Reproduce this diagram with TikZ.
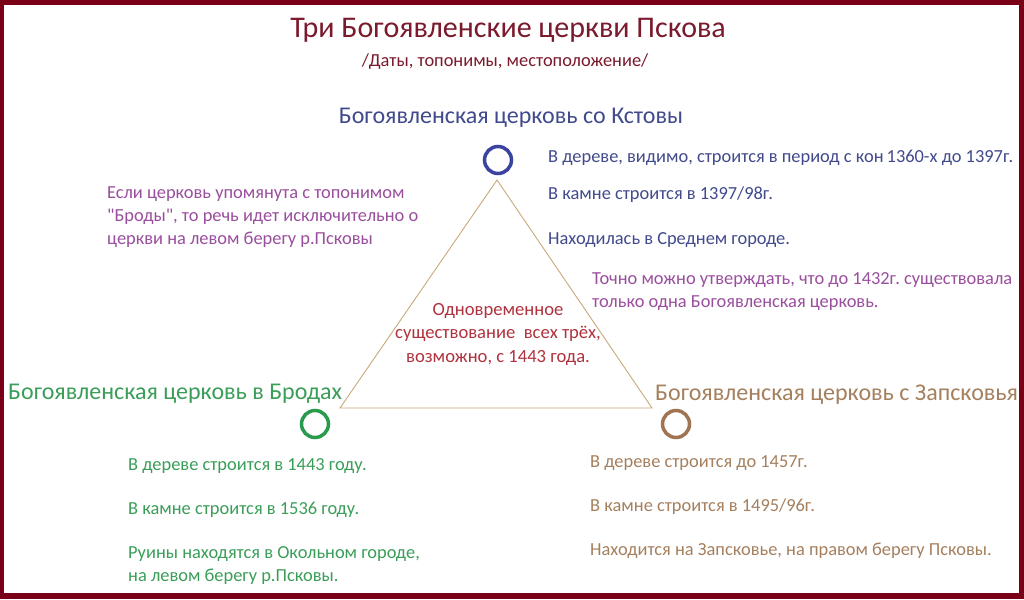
\documentclass[tikz,border=0pt]{standalone}
\usepackage{fontspec}
\setmainfont{Carlito}
\newfontfamily\plainq{Carlito}
\definecolor{frame}{HTML}{7A0018}
\definecolor{titlec}{HTML}{7A1A2C}
\definecolor{bluec}{HTML}{414A8C}
\definecolor{bluecirc}{HTML}{3A43A0}
\definecolor{purplec}{HTML}{9A4E9E}
\definecolor{greenc}{HTML}{3A9E58}
\definecolor{greencirc}{HTML}{2A9A4E}
\definecolor{brownc}{HTML}{A5805E}
\definecolor{browncirc}{HTML}{A07452}
\definecolor{redc}{HTML}{B0323E}
\definecolor{trianc}{HTML}{C9A97C}
\tikzset{
  body/.style={anchor=west, inner sep=0pt, font=\fontsize{18.4}{23}\selectfont\frenchspacing},
  head/.style={inner sep=0pt, font=\fontsize{24}{28}\selectfont},
  ring/.style={circle, minimum size=27pt, inner sep=0pt, line width=3.5pt},
}
\begin{document}
\begin{tikzpicture}[x=1pt,y=-1pt]
\useasboundingbox (0,0) rectangle (1024,599);
\fill[frame] (0,0) rectangle (1024,599);
\fill[white] (4,5) rectangle (1019,593);
% title
\node[inner sep=0pt, text=titlec, font=\fontsize{30}{34}\selectfont] (title) at (508,30) {Три Богоявленские церкви Пскова};
\node[inner sep=0pt, text=titlec, font=\fontsize{18.4}{22}\selectfont] (sub) at (505,62) {/Даты, топонимы, местоположение/};
% headings
\node[head, text=bluec] (hk) at (511,118) {Богоявленская церковь со Кстовы};
\node[head, text=greenc, anchor=west] (hb) at (8,394) {Богоявленская церковь в Бродах};
\node[head, text=brownc, anchor=west] (hz) at (655,395) {Богоявленская церковь с Запсковья};
% circles
\node[ring, draw=bluecirc] (ck) at (498,160) {};
\node[ring, draw=greencirc] (cb) at (315,424) {};
\node[ring, draw=browncirc] (cz) at (676,424) {};
% triangle
\coordinate (ta) at (497,180);
\coordinate (tl) at (340,408);
\coordinate (tr) at (652,408);
\draw[trianc, line width=0.9pt] (ta) -- (tl) -- (tr) -- cycle;
% center text
\node[inner sep=0pt, text=redc, align=center, font=\fontsize{18.6}{23.5}\selectfont\frenchspacing] (mid) at (498,334) {Одновременное\\существование \ всех трёх,\\возможно, с 1443 года.};
% top right blue
\node[body, text=bluec] (k1) at (548,158) {В дереве, видимо, строится в период с кон\,1360-х до 1397г.};
\node[body, text=bluec] (k2) at (548,195) {В камне строится в 1397/98г.};
\node[body, text=bluec] (k3) at (548,240) {Находилась в Среднем городе.};
% purple right
\node[body, text=purplec, align=left] (p2) at (592,292) {Точно можно утверждать, что до 1432г. существовала\\только одна Богоявленская церковь.};
% purple left
\node[body, text=purplec, align=left] (p1) at (107,217) {Если церковь упомянута с топонимом\\{\plainq"}Броды{\plainq"}, то речь идет исключительно о\\церкви на левом берегу р.Псковы};
% green bottom
\node[body, text=greenc] (b1) at (128,466) {В дереве строится в 1443 году.};
\node[body, text=greenc] (b2) at (128,510) {В камне строится в 1536 году.};
\node[body, text=greenc, align=left] (b3) at (128,566) {Руины находятся в Окольном городе,\\на левом берегу р.Псковы.};
% brown bottom
\node[body, text=brownc] (z1) at (590,463) {В дереве строится до 1457г.};
\node[body, text=brownc] (z2) at (590,507) {В камне строится в 1495/96г.};
\node[body, text=brownc] (z3) at (590,551) {Находится на Запсковье, на правом берегу Псковы.};
\end{tikzpicture}
\end{document}
